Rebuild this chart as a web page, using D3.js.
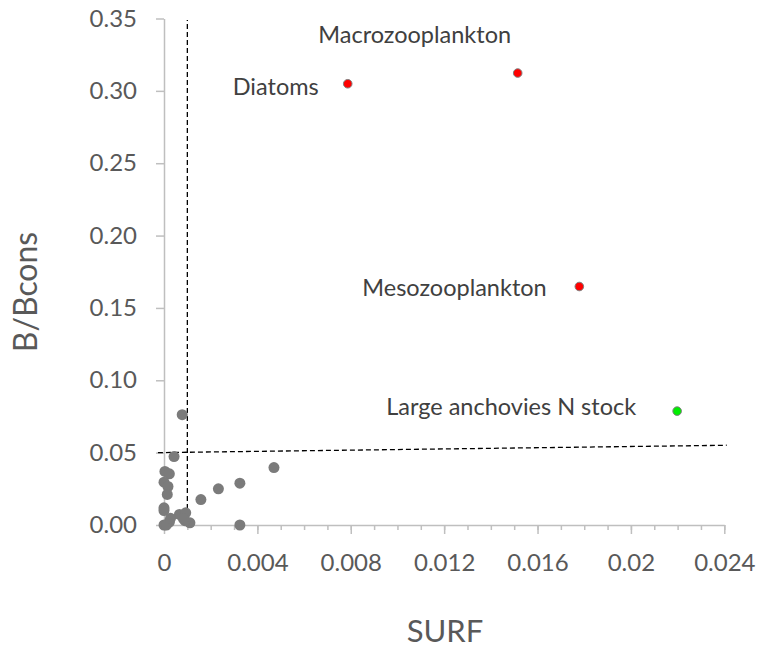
<!DOCTYPE html>
<html>
<head>
<meta charset="utf-8">
<script src="https://cdn.jsdelivr.net/npm/d3@7"></script>
<style>
  body { margin: 0; background: #fff; }
  text { font-family: Lato, "Open Sans", sans-serif; }
</style>
</head>
<body>
<div id="vis"></div>
<script>
const width = 759;
const height = 649;

// gray points (other groups), SURF vs B/Bcons
const otherSurf = [0.00078, 0.00043, 0.00004, 0.00023, 0.00471, 0.0, 0.00017, 0.00325, 0.00233,
                   0.00014, 0.00158, 0.0, 0.0, 0.00066, 0.00093, 0.00111, 0.0009, 0.00325,
                   0.0, 0.00023, 0.0001, 0.00028, 0.00083];
const otherB    = [0.0762, 0.0473, 0.037, 0.0354, 0.0397, 0.0296, 0.0266, 0.0289, 0.025,
                   0.0211, 0.0176, 0.0119, 0.0100, 0.0073, 0.0084, 0.0015, 0.003, 0.0,
                   0.0, 0.002, 0.0, 0.0046, 0.0045];

// highlighted groups
const groupNames = ['Diatoms', 'Macrozooplankton', 'Mesozooplankton', 'Large anchovies N stock'];
const groupSurf  = [0.00787, 0.01515, 0.01779, 0.02198];
const groupB     = [0.3049, 0.3123, 0.1648, 0.0787];
const groupKind  = ['red', 'red', 'red', 'green'];

// reference lines
const vLine = [[0.001, 0], [0.001, 0.349]];
const hLine = [[-0.00026, 0.05], [0.0241, 0.0551]];

const xMajor = [0, 0.004, 0.008, 0.012, 0.016, 0.02, 0.024];
const xMinor = d3.range(0, 0.0245, 0.001);
const yTicks = [0, 0.05, 0.10, 0.15, 0.20, 0.25, 0.30, 0.35];

const svg = d3.select('#vis')
              .append('svg')
              .attr('width', width)
              .attr('height', height);

const x = d3.scaleLinear().domain([0, 0.024]).range([164, 724.3]);
const y = d3.scaleLinear().domain([0, 0.35]).range([525, 18.5]);

const axisColor = '#bfbfbf';
const tickText = '#595959';

// x axis: minor ticks then major ticks with labels
svg.append('g')
   .attr('transform', `translate(0,${y(0)})`)
   .call(d3.axisBottom(x).tickValues(xMinor).tickSize(5).tickSizeOuter(0).tickFormat(''))
   .call(g => g.select('.domain').remove());

svg.append('g')
   .attr('transform', `translate(0,${y(0)})`)
   .call(d3.axisBottom(x).tickValues(xMajor).tickSize(9).tickSizeOuter(0).tickPadding(20)
           .tickFormat(d => d === 0 ? '0' : String(+d.toFixed(3))));

svg.append('g')
   .attr('transform', `translate(${x(0)},0)`)
   .call(d3.axisLeft(y).tickValues(yTicks).tickSize(8).tickSizeOuter(0).tickPadding(19)
           .tickFormat(d3.format('.2f')));

svg.selectAll('.domain, .tick line')
   .attr('stroke', axisColor)
   .attr('stroke-width', 1.5);

svg.selectAll('.tick text')
   .attr('fill', tickText)
   .style('font-size', '24px')
   .style('font-family', 'Lato, "Open Sans", sans-serif');

// axis titles
svg.append('text')
   .attr('x', 445)
   .attr('y', 642)
   .attr('text-anchor', 'middle')
   .attr('fill', tickText)
   .style('font-size', '31px')
   .text('SURF');

svg.append('text')
   .attr('transform', 'translate(37,292) rotate(-90)')
   .attr('text-anchor', 'middle')
   .attr('fill', tickText)
   .style('font-size', '32px')
   .text('B/Bcons');

// dashed reference lines
const line = d3.line().x(d => x(d[0])).y(d => y(d[1]));

svg.append('path')
   .attr('d', line(vLine))
   .attr('fill', 'none')
   .attr('stroke', '#000')
   .attr('stroke-width', 1.3)
   .attr('stroke-dasharray', '5,3');

svg.append('path')
   .attr('d', line(hLine))
   .attr('fill', 'none')
   .attr('stroke', '#000')
   .attr('stroke-width', 1.3)
   .attr('stroke-dasharray', '5,3');

// gray points
const others = otherSurf.map((s, i) => ({ surf: s, b: otherB[i] }));

svg.append('g')
   .selectAll('circle')
   .data(others)
   .enter()
   .append('circle')
   .attr('cx', d => x(d.surf))
   .attr('cy', d => y(d.b))
   .attr('r', 5.5)
   .attr('fill', '#7b7b7b');

// highlighted points
const groups = groupNames.map((n, i) => ({ name: n, surf: groupSurf[i], b: groupB[i], kind: groupKind[i] }));
const colors = { red: '#ff0000', green: '#00ee00' };

svg.append('g')
   .selectAll('circle')
   .data(groups)
   .enter()
   .append('circle')
   .attr('cx', d => x(d.surf))
   .attr('cy', d => y(d.b))
   .attr('r', 4.3)
   .attr('fill', d => colors[d.kind])
   .attr('stroke', '#7f7f7f')
   .attr('stroke-width', 1);

// label offsets from each point
const labelPos = {
    'Diatoms': { dx: -29, dy: 11.7, anchor: 'end' },
    'Macrozooplankton': { dx: -103, dy: -30, anchor: 'middle' },
    'Mesozooplankton': { dx: -32.6, dy: 9, anchor: 'end' },
    'Large anchovies N stock': { dx: -41, dy: 4.3, anchor: 'end' }
};

svg.append('g')
   .selectAll('text')
   .data(groups)
   .enter()
   .append('text')
   .attr('x', d => x(d.surf) + labelPos[d.name].dx)
   .attr('y', d => y(d.b) + labelPos[d.name].dy)
   .attr('text-anchor', d => labelPos[d.name].anchor)
   .attr('fill', '#404040')
   .style('font-size', '23.5px')
   .text(d => d.name);
</script>
</body>
</html>
